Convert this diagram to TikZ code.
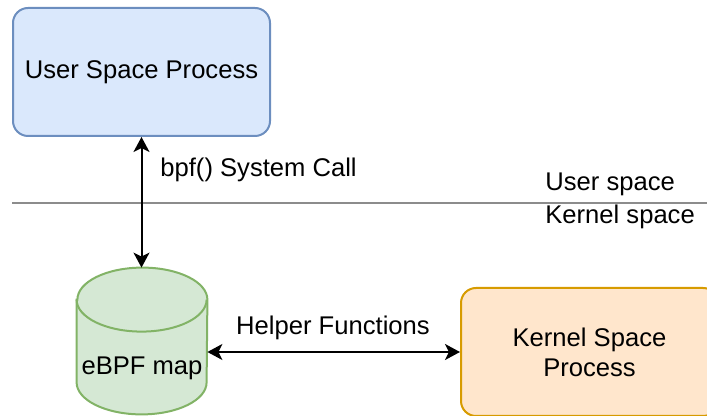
\documentclass[tikz,border=0pt]{standalone}
\usepackage{fontspec}
\setmainfont{Liberation Sans}
\usetikzlibrary{arrows.meta,positioning}
\definecolor{userfill}{HTML}{DAE8FC}
\definecolor{userline}{HTML}{6C8EBF}
\definecolor{mapfill}{HTML}{D5E8D4}
\definecolor{mapline}{HTML}{82B366}
\definecolor{kernfill}{HTML}{FFE6CC}
\definecolor{kernline}{HTML}{D79B00}
\definecolor{sepgray}{HTML}{8C8C8C}
\begin{document}
\begin{tikzpicture}[
        x=0.5pt, y=-0.5pt,
        font=\fontsize{12.8pt}{15pt}\selectfont,
        proc/.style={rectangle,rounded corners=7.5pt,draw,line width=1pt,minimum width=128.5pt,minimum height=64pt,align=center},
        txt/.style={inner sep=0pt},
        link/.style={<->,line width=1pt,>={Stealth[length=7.5pt,width=8pt,inset=2pt]}}
        ]
        \useasboundingbox (0,0) rectangle (707,416);
        \clip (0,0) rectangle (707,416);
        % boxes
        \node (user) [proc,fill=userfill,draw=userline] at (141.5,72) {User Space Process};
        \node (kern) [proc,fill=kernfill,draw=kernline] at (589.5,352) {Kernel Space\\Process};
        % the map as a cylinder round an empty frame
        \node (map) [minimum width=65pt,minimum height=73pt,inner sep=0pt] at (142,341) {};
        \filldraw[fill=mapfill,draw=mapline,line width=1pt]
            ([yshift=-16pt]map.north west) -- ([yshift=16pt]map.south west)
            arc[start angle=180,end angle=360,x radius=32.5pt,y radius=16pt]
            -- ([yshift=-16pt]map.north east)
            arc[start angle=0,end angle=180,x radius=32.5pt,y radius=16pt] -- cycle;
        \draw[mapline,line width=1pt] ([yshift=-16pt]map.north west)
            arc[start angle=180,end angle=360,x radius=32.5pt,y radius=16pt];
        \node (maptext) [txt] at (142,368) {eBPF map};
        % user / kernel border
        \coordinate (sepl) at (12,203);
        \coordinate (sepr) at (707,203);
        \draw[sepgray,line width=1pt] (sepl) -- (sepr);
        \node (us) [txt,anchor=west] at (545,184) {User space};
        \node (ks) [txt,anchor=west] at (545,217) {Kernel space};
        % connectors
        \draw[link] (user.south) -- (user.south |- map.north);
        \node (bpf) [txt,anchor=west] at (160,170) {bpf() System Call};
        \draw[link] (map.east |- kern.west) -- (kern.west);
        \node (helper) [txt] at (333,328) {Helper Functions};
\end{tikzpicture}
\end{document}
